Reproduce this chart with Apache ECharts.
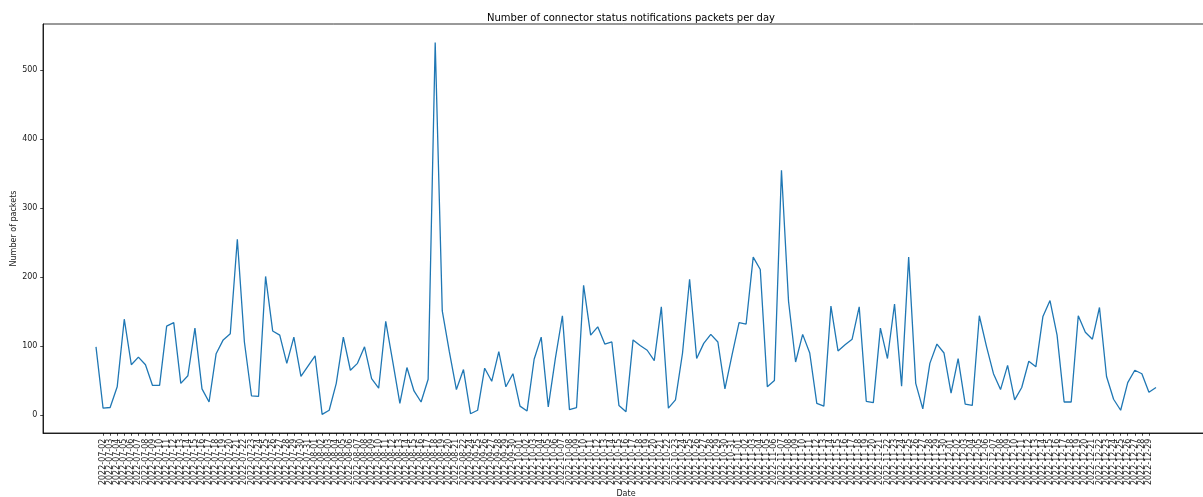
<!DOCTYPE html>
<html>
<head>
<meta charset="utf-8">
<script src="https://cdn.jsdelivr.net/npm/echarts@6/dist/echarts.min.js"></script>
<style>
  html, body { margin: 0; padding: 0; background: #fff; }
  #chart { width: 1203px; height: 497px; }
</style>
</head>
<body>
<div id="chart"></div>
<script>
// Days that have data (inclusive ranges); days outside them have no record.
const dateRanges = [
  ['2022-07-01', '2022-08-22'],
  ['2022-09-24', '2022-12-30']
];

// Packets per day, one value per date above.
const packetsJulAug = [
  99, 10, 11, 41, 139, 73, 84, 73, 43, 43, 129, 134, 46, 57, 126, 38, 19, 89, 109, 118,
  255, 106, 28, 27, 201, 122, 116, 75, 113, 56, 71, 86, 1, 7, 46, 113, 65, 75, 99, 53,
  39, 136, 77, 17, 69, 35, 19, 52, 540, 151, 92, 37, 66
];
const packetsSepOct = [
  2, 7, 68, 49, 92, 41, 60, 13, 6, 81, 113, 12, 82, 144, 8, 11, 188, 116, 128, 103,
  106, 14, 5, 109, 101, 94, 79, 157, 10, 22, 90, 197, 82, 104, 117, 106, 38
];
const packetsNovDec = [
  87, 134, 132, 229, 211, 41, 50, 355, 165, 77, 117, 90, 17, 13, 158, 93, 102, 110, 157, 20,
  18, 126, 82, 161, 42, 229, 46, 9, 75, 103, 90, 32, 82, 16, 14, 144, 100, 60, 37, 72,
  22, 40, 78, 70, 143, 166, 116, 19, 19, 144, 120, 110, 156, 56, 23, 7, 47, 65, 60, 33, 40
];

const yTicks = [0, 100, 200, 300, 400, 500];

function expandRanges(ranges) {
  const out = [];
  ranges.forEach(([a, b]) => {
    const d = new Date(a + 'T00:00:00Z');
    const end = new Date(b + 'T00:00:00Z');
    while (d <= end) {
      out.push(d.toISOString().slice(0, 10));
      d.setUTCDate(d.getUTCDate() + 1);
    }
  });
  return out;
}

const dates = expandRanges(dateRanges);
const packets = packetsJulAug.concat(packetsSepOct, packetsNovDec);
const positions = dates.map((_, i) => i);
const n = dates.length;

// 5% padding around the data on both axes
const xPad = (n - 1) * 0.05;
const yMin = Math.min(...packets), yMax = Math.max(...packets);
const yPad = (yMax - yMin) * 0.05;

const font = 'DejaVu Sans';
const textColor = '#1a1a1a';
const chart = echarts.init(document.getElementById('chart'), null, { renderer: 'canvas' });

chart.setOption({
  animation: false,
  backgroundColor: '#ffffff',
  title: {
    text: 'Number of connector status notifications packets per day',
    left: 626,
    textAlign: 'center',
    top: 8,
    textStyle: { fontFamily: font, fontSize: 10, fontWeight: 'normal', color: '#000' }
  },
  grid: {
    left: 43, right: -6, top: 24, bottom: 64,
    containLabel: false,
    outerBoundsMode: 'none',
    show: true, borderColor: '#000', borderWidth: 0.8, backgroundColor: 'transparent'
  },
  xAxis: {
    type: 'value',
    min: -xPad,
    max: n - 1 + xPad,
    name: 'Date',
    nameLocation: 'middle',
    nameGap: 57,
    nameMoveOverlap: false,
    nameTextStyle: { fontFamily: font, fontSize: 8, color: textColor },
    splitLine: { show: false },
    axisLine: { show: true, onZero: false, lineStyle: { color: '#000', width: 0.8 } },
    axisTick: { show: true, customValues: positions, length: 2.8, lineStyle: { color: '#000', width: 0.7 } },
    axisLabel: {
      customValues: positions,
      rotate: 90,
      margin: 5.6,
      hideOverlap: false,
      fontFamily: font,
      fontSize: 8,
      color: textColor,
      formatter: (v) => dates[Math.round(v)] || ''
    }
  },
  yAxis: {
    type: 'value',
    min: yMin - yPad,
    max: yMax + yPad,
    name: 'Number of packets',
    nameLocation: 'middle',
    nameRotate: 90,
    nameGap: 25,
    nameMoveOverlap: false,
    nameTextStyle: { fontFamily: font, fontSize: 8, color: textColor },
    splitLine: { show: false },
    axisLine: { show: true, onZero: false, lineStyle: { color: '#000', width: 0.8 } },
    axisTick: { show: true, customValues: yTicks, length: 2.8, lineStyle: { color: '#000', width: 0.7 } },
    axisLabel: {
      customValues: yTicks,
      margin: 5.6,
      fontFamily: font,
      fontSize: 8,
      color: textColor
    }
  },
  series: [{
    type: 'line',
    data: packets.map((v, i) => [i, v]),
    symbol: 'none',
    lineStyle: { color: '#1f77b4', width: 1.3 },
    itemStyle: { color: '#1f77b4' }
  }]
});
</script>
</body>
</html>
